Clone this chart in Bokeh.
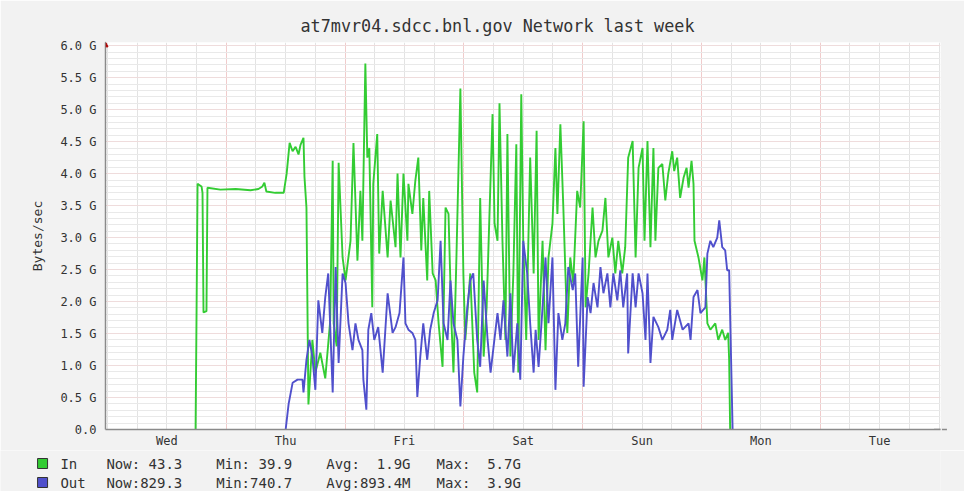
from bokeh.plotting import figure
from bokeh.layouts import column
from bokeh.models import Range1d, FixedTicker, Arrow, NormalHead
from bokeh.core.properties import value
from bokeh.embed import file_html
from bokeh.resources import INLINE

# time axis: hours since Wednesday 00:00
in_hours = [17.8, 18.0, 18.2, 19.0, 19.2, 19.4, 20.0, 20.2, 22.8, 25.9,
            28.9, 30.5, 31.3, 31.7, 32.1, 33.9, 35.6, 36.2, 36.8, 37.4,
            38.0, 38.6, 39.0, 39.6, 39.8, 40.2, 40.6, 41.4, 42.0, 43.0,
            44.0, 45.0, 45.5, 45.7, 46.3, 46.7, 47.5, 48.1, 49.1, 49.7,
            50.5, 51.1, 51.5, 52.1, 52.5, 52.9, 53.5, 53.7, 54.5, 54.9,
            55.6, 56.6, 57.2, 58.2, 58.6, 59.2, 59.8, 60.6, 60.8, 61.6,
            62.2, 62.8, 63.4, 63.8, 64.6, 65.0, 65.7, 66.3, 66.9, 67.7,
            68.3, 68.9, 69.5, 69.9, 70.5, 71.3, 71.9, 72.3, 73.3, 74.1,
            74.7, 75.3, 76.0, 76.6, 77.8, 78.2, 78.8, 79.2, 79.8, 80.4,
            80.8, 81.4, 82.0, 82.6, 83.0, 83.6, 84.0, 84.6, 85.4, 86.1,
            86.7, 87.1, 87.9, 88.5, 89.1, 89.9, 90.5, 90.9, 91.5, 92.1,
            92.9, 93.5, 94.1, 94.9, 95.5, 96.2, 96.6, 97.2, 98.0, 98.6,
            99.2, 100.0, 100.6, 101.2, 102.0, 102.6, 103.2, 104.0, 104.6, 105.2,
            106.1, 106.7, 107.3, 108.1, 108.5, 109.1, 109.7, 110.3, 110.7, 111.3,
            112.1, 112.7, 113.3, 114.1, 114.5, 115.1, 115.7, 116.4, 117.0, 117.4,
            118.0, 118.4, 118.6, 119.4, 120.2, 120.6, 121.2, 121.8, 122.8, 123.4,
            124.2, 124.8, 125.4, 125.6, 125.8]
in_gbytes = [0.00, 1.87, 3.84, 3.80, 3.70, 1.83, 1.85, 3.78, 3.75, 3.76,
             3.74, 3.76, 3.80, 3.86, 3.72, 3.70, 3.70, 4.00, 4.48, 4.35,
             4.42, 4.30, 4.45, 4.56, 3.95, 3.47, 0.39, 1.40, 0.89, 1.20,
             0.80, 1.70, 4.20, 1.66, 1.30, 4.17, 2.69, 2.33, 2.95, 4.48,
             2.64, 3.73, 2.95, 5.72, 4.25, 4.40, 1.91, 3.84, 4.62, 2.75,
             3.73, 2.69, 3.58, 2.85, 4.00, 2.69, 4.00, 2.95, 3.84, 3.37,
             3.89, 4.25, 2.80, 3.62, 2.33, 3.73, 2.44, 2.33, 1.66, 0.98,
             3.47, 3.37, 1.66, 0.89, 2.69, 5.33, 2.44, 1.40, 2.44, 0.89,
             0.58, 3.62, 1.14, 1.91, 4.93, 3.22, 2.95, 5.10, 2.95, 1.40,
             4.62, 1.14, 2.44, 4.46, 0.89, 5.24, 2.95, 1.40, 4.25, 2.44,
             4.67, 1.40, 2.95, 1.24, 2.69, 3.22, 4.40, 3.37, 4.77, 3.47,
             1.51, 2.69, 2.29, 3.73, 3.47, 4.82, 1.91, 2.44, 3.47, 2.69,
             2.95, 3.11, 3.62, 2.69, 3.00, 2.44, 2.95, 2.44, 2.85, 4.25,
             4.51, 2.69, 4.09, 4.40, 2.95, 4.51, 2.85, 4.40, 2.95, 4.09,
             4.15, 3.58, 4.00, 4.35, 4.04, 4.25, 3.62, 3.94, 4.09, 3.78,
             4.20, 3.84, 2.95, 2.69, 2.33, 2.69, 1.66, 1.56, 1.66, 1.40,
             1.56, 1.40, 1.51, 1.09, 0.00]

out_hours = [36.0, 36.6, 37.4, 38.4, 39.4, 39.6, 40.2, 40.8, 41.4, 42.0,
             42.6, 43.4, 44.0, 44.6, 45.5, 46.1, 46.7, 47.5, 48.1, 48.7,
             49.5, 50.1, 50.7, 51.5, 51.7, 52.3, 52.7, 53.3, 53.9, 54.7,
             55.6, 56.6, 57.6, 58.2, 59.0, 59.8, 60.2, 60.8, 61.6, 62.2,
             62.6, 63.2, 63.8, 64.6, 65.2, 65.9, 66.7, 67.3, 67.9, 68.7,
             69.3, 69.9, 70.7, 71.3, 71.9, 72.7, 73.3, 73.9, 74.7, 75.3,
             76.0, 76.8, 77.4, 78.0, 78.8, 79.4, 80.0, 80.8, 81.4, 82.0,
             82.8, 83.4, 84.0, 84.8, 85.4, 86.1, 86.5, 87.1, 87.9, 88.5,
             89.1, 89.9, 90.5, 91.1, 91.9, 92.5, 93.1, 94.0, 94.5, 95.1,
             96.0, 96.2, 97.0, 97.6, 98.2, 99.0, 99.6, 100.2, 101.0, 101.6,
             102.2, 103.0, 103.6, 104.2, 105.0, 105.2, 106.1, 106.7, 107.3, 108.1,
             108.7, 109.1, 109.7, 110.3, 111.3, 112.1, 113.1, 113.7, 114.1, 115.1,
             116.2, 117.4, 117.8, 118.4, 119.2, 119.8, 120.8, 121.2, 121.8, 122.4,
             123.2, 123.6, 124.2, 124.8, 125.2, 125.6, 126.3]
out_gbytes = [0.00, 0.40, 0.73, 0.78, 0.78, 0.58, 1.09, 1.40, 1.14, 0.62,
              2.02, 1.51, 2.07, 2.44, 0.58, 2.54, 1.04, 2.44, 2.29, 1.66,
              1.24, 1.66, 1.40, 1.24, 0.78, 0.31, 1.56, 1.82, 1.40, 1.60,
              0.89, 2.13, 1.51, 1.60, 1.82, 2.69, 1.66, 1.56, 1.51, 1.40,
              0.51, 1.14, 1.66, 1.09, 1.56, 1.82, 2.02, 2.95, 1.66, 1.40,
              2.33, 1.66, 1.40, 0.36, 1.14, 1.91, 2.33, 2.44, 1.40, 0.98,
              2.33, 1.40, 0.89, 1.29, 1.82, 1.40, 2.02, 1.14, 2.13, 0.89,
              1.66, 0.78, 2.95, 2.44, 1.66, 0.89, 1.56, 0.98, 1.91, 2.69,
              1.66, 2.69, 0.62, 1.82, 1.40, 1.66, 2.54, 2.18, 2.44, 0.98,
              2.69, 0.67, 2.07, 1.82, 2.29, 1.91, 2.54, 2.13, 2.44, 1.91,
              2.44, 2.02, 2.49, 1.91, 2.44, 1.19, 2.44, 1.91, 2.44, 2.13,
              1.40, 2.44, 1.04, 1.76, 1.60, 1.40, 1.56, 1.87, 1.40, 1.87,
              1.56, 1.66, 1.40, 2.07, 2.18, 1.82, 1.91, 2.75, 2.95, 2.85,
              3.00, 3.27, 2.85, 2.80, 2.49, 2.49, 0.00]

day_ticks = [12, 36, 60, 84, 108, 132, 156]
day_labels = ["Wed", "Thu", "Fri", "Sat", "Sun", "Mon", "Tue"]
midnights = [24, 48, 72, 96, 120, 144]
y_ticks = [0.0, 0.5, 1.0, 1.5, 2.0, 2.5, 3.0, 3.5, 4.0, 4.5, 5.0, 5.5, 6.0]
y_labels = ["0.0", "0.5 G", "1.0 G", "1.5 G", "2.0 G", "2.5 G", "3.0 G",
            "3.5 G", "4.0 G", "4.5 G", "5.0 G", "5.5 G", "6.0 G"]

series_names = ["In", "Out"]
series_colors = ["#33cc33", "#5050cc"]
NB = "\u00a0"
stat_now = ["Now:" + NB + "43.3", "Now:829.3"]
stat_min = ["Min:" + NB + "39.9", "Min:740.7"]
stat_avg = ["Avg:" + NB * 2 + "1.9G", "Avg:893.4M"]
stat_max = ["Max:" + NB * 2 + "5.7G", "Max:" + NB * 2 + "3.9G"]

MONO = "DejaVu Sans Mono"
BG = "#f2f2f2"

# ---------------- main graph ----------------
p = figure(width=964, height=450,
           x_range=Range1d(-0.4, 168.3), y_range=Range1d(0, 6.05),
           output_backend="svg", toolbar_location=None,
           min_border_left=105, min_border_right=24,
           min_border_top=42, min_border_bottom=20,
           background_fill_color="white", border_fill_color=BG,
           outline_line_color=None)
p.frame_align = False

p.title.text = "at7mvr04.sdcc.bnl.gov Network last week"
p.title.text_font = MONO
p.title.text_font_size = "16.8px"
p.title.text_font_style = "normal"
p.title.text_color = "#333333"
p.title.align = "left"
p.title.offset = 195
p.title.standoff = 14

p.xaxis.ticker = FixedTicker(ticks=day_ticks)
p.xaxis.major_label_overrides = dict(zip(day_ticks, day_labels))
p.yaxis.ticker = FixedTicker(ticks=y_ticks)
p.yaxis.major_label_overrides = dict(zip(y_ticks, y_labels))
for ax in (p.xaxis[0], p.yaxis[0]):
    ax.axis_line_color = "#8a8a8a"
    ax.axis_line_width = 1.5
    ax.major_tick_line_color = None
    ax.minor_tick_line_color = None
    ax.major_tick_out = 0
    ax.major_tick_in = 0
    ax.minor_tick_out = 0
    ax.minor_tick_in = 0
    ax.major_label_text_font = MONO
    ax.major_label_text_font_size = "12px"
    ax.major_label_text_color = "#333333"
p.xaxis.major_label_standoff = 4
p.yaxis.major_label_standoff = 9
p.yaxis.axis_label = "Bytes/sec"
p.yaxis.axis_label_text_font = MONO
p.yaxis.axis_label_text_font_size = "13px"
p.yaxis.axis_label_text_font_style = "normal"
p.yaxis.axis_label_text_color = "#333333"
p.yaxis.axis_label_standoff = 12

p.xgrid.ticker = FixedTicker(ticks=midnights, minor_ticks=list(range(0, 169, 6)))
p.xgrid.grid_line_color = "#f0cccc"
p.xgrid.minor_grid_line_color = "#e3e3e3"
p.ygrid.ticker = FixedTicker(ticks=y_ticks, minor_ticks=[i / 10 for i in range(61)])
p.ygrid.grid_line_color = "#efdcdc"
p.ygrid.minor_grid_line_color = "#e9e9e9"

p.line(in_hours, in_gbytes, line_color=series_colors[0], line_width=1.9)
p.line(out_hours, out_gbytes, line_color=series_colors[1], line_width=1.9)

p.add_layout(Arrow(x_start=-0.4, y_start=5.95, x_end=-0.4, y_end=6.06,
                   line_color="#8a8a8a", line_width=1,
                   end=NormalHead(size=5, fill_color="#b00000", line_color="#b00000")))
p.add_layout(Arrow(x_start=167.0, y_start=0, x_end=169.6, y_end=0,
                   line_color="#8a8a8a", line_width=1.5,
                   end=NormalHead(size=5, fill_color="#b00000", line_color="#b00000")))

# ---------------- legend strip (RRD style) ----------------
leg = figure(width=964, height=41,
             x_range=Range1d(-21.6, 168.3), y_range=Range1d(0, 41),
             output_backend="svg", toolbar_location=None,
             min_border_left=0, min_border_right=24,
             min_border_top=0, min_border_bottom=0,
             background_fill_color=BG, border_fill_color=BG,
             outline_line_color=None)
leg.frame_align = False
leg.axis.visible = False
leg.xgrid.visible = False
leg.ygrid.visible = False

row_y = [28, 9]
leg.scatter([-13.1, -13.1], row_y, marker="square", size=10,
            fill_color=series_colors, line_color="#333333", line_width=1)
col_x = [-9.5, -0.2, 22.0, 44.2, 66.5]
texts_x, texts_y, texts = [], [], []
for i in range(2):
    for x, txt in zip(col_x, [series_names[i], stat_now[i], stat_min[i],
                              stat_avg[i], stat_max[i]]):
        texts_x.append(x)
        texts_y.append(row_y[i])
        texts.append(txt)
leg.text(texts_x, texts_y, text=texts, text_font=value(MONO),
         text_font_size="14px", text_color="#333333",
         text_baseline="middle", text_align="left")

layout = column(p, leg, spacing=0)
open("out.html", "w").write(file_html(layout, INLINE))
